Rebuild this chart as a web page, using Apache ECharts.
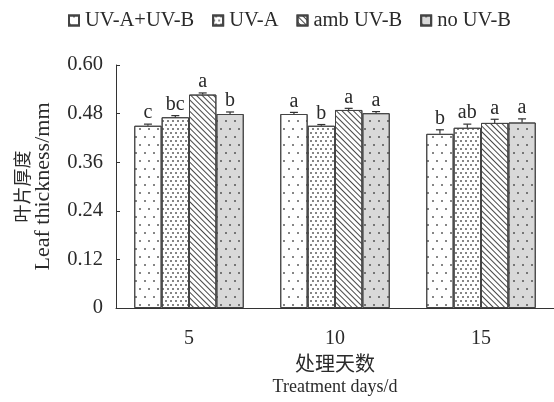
<!DOCTYPE html>
<html>
<head>
<meta charset="utf-8">
<script src="https://cdn.jsdelivr.net/npm/echarts@6/dist/echarts.min.js"></script>
<style>
  html, body { margin: 0; padding: 0; background: #fff; }
  #main { width: 554px; height: 402px; }
</style>
</head>
<body>
<div id="main"></div>
<script>
// 处理天数
var days = ['5', '10', '15'];
var seriesNames = ['UV-A+UV-B', 'UV-A', 'amb UV-B', 'no UV-B'];
// 叶片厚度 mean values (mm)
var uvab = [0.450, 0.479, 0.430];
var uva = [0.471, 0.450, 0.445];
var ambUvb = [0.527, 0.489, 0.457];
var noUvb = [0.479, 0.481, 0.458];
// error bars
var uvabErr = [0.004, 0.004, 0.010];
var uvaErr = [0.004, 0.003, 0.009];
var ambUvbErr = [0.004, 0.004, 0.009];
var noUvbErr = [0.005, 0.004, 0.009];
// significance letters
var uvabSig = ['c', 'a', 'b'];
var uvaSig = ['bc', 'b', 'ab'];
var ambUvbSig = ['a', 'a', 'a'];
var noUvbSig = ['b', 'a', 'a'];
var yTicks = ['0', '0.12', '0.24', '0.36', '0.48', '0.60'];

var values = [uvab, uva, ambUvb, noUvb];
var errs = [uvabErr, uvaErr, ambUvbErr, noUvbErr];
var sigs = [uvabSig, uvaSig, ambUvbSig, noUvbSig];

var serif = '"Liberation Serif", "Times New Roman", serif';
var cjk = '"Noto Sans CJK SC", serif';
var ink = '#2a2a2a';
var gapRatio = 0.25;

// 填充图案
var decals = [
  { symbol: 'circle', symbolSize: 1, color: 'rgba(40,40,40,0.75)',
    dashArrayX: [[1.4, 6.6], [0, 4, 1.4, 2.6]], dashArrayY: [1.4, 5.6] },
  { symbol: 'circle', symbolSize: 1, color: 'rgba(40,40,40,0.75)',
    dashArrayX: [[1.3, 2.7], [0, 2, 1.3, 0.7]], dashArrayY: [1.3, 1.9] },
  { symbol: 'rect', symbolSize: 1, color: 'rgba(40,40,40,0.85)',
    dashArrayX: [1, 0], dashArrayY: [1, 2.6], rotation: Math.PI / 4 },
  { symbol: 'circle', symbolSize: 1, color: 'rgba(40,40,40,0.75)',
    dashArrayX: [[1.4, 6.6], [0, 4, 1.4, 2.6]], dashArrayY: [1.4, 5.6] }
];
var fills = ['#ffffff', '#ffffff', '#ffffff', '#d9d9d9'];

var series = [];
seriesNames.forEach(function (name, si) {
  series.push({
    name: name,
    type: 'bar',
    data: values[si],
    barGap: 0,
    barCategoryGap: (gapRatio * 100) + '%',
    itemStyle: {
      color: fills[si],
      borderColor: '#444',
      borderWidth: 1,
      decal: decals[si]
    },
    emphasis: { disabled: true }
  });
});
seriesNames.forEach(function (name, si) {
  series.push({
    type: 'custom',
    data: values[si].map(function (v, i) { return [i, v, errs[si][i]]; }),
    z: 5,
    silent: true,
    renderItem: function (params, api) {
      var ci = api.value(0);
      var base = api.coord([ci, api.value(1)]);
      var top = api.coord([ci, api.value(1) + api.value(2)]);
      var bw = api.size([1, 0])[0] * (1 - gapRatio) / 4;
      var x = base[0] + (si - 1.5) * bw;
      var st = { stroke: '#333', lineWidth: 1.2 };
      return {
        type: 'group',
        children: [
          { type: 'line', shape: { x1: x, y1: base[1], x2: x, y2: top[1] }, style: st },
          { type: 'line', shape: { x1: x - 4, y1: top[1], x2: x + 4, y2: top[1] }, style: st },
          { type: 'text', style: {
              text: sigs[si][params.dataIndex], x: x, y: top[1] - 1,
              align: 'center', verticalAlign: 'bottom',
              font: '20px ' + serif, fill: ink } }
        ]
      };
    }
  });
});

var chart = echarts.init(document.getElementById('main'));
chart.setOption({
  animation: false,
  backgroundColor: '#fff',
  legend: {
    data: seriesNames,
    icon: 'rect',
    top: 5,
    left: 63,
    itemWidth: 10,
    itemHeight: 10,
    itemGap: 18,
    textStyle: { fontFamily: serif, fontSize: 20.5, color: ink, padding: [0, 0, 0, 1] }
  },
  grid: { left: 116, right: 0, top: 65, bottom: 94 },
  xAxis: {
    type: 'category',
    data: days,
    name: '{cn|处理天数}\n{en|Treatment days/d}',
    nameLocation: 'middle',
    nameGap: 32,
    nameTextStyle: {
      color: ink,
      rich: {
        cn: { fontFamily: cjk, fontSize: 20, lineHeight: 24, color: ink },
        en: { fontFamily: serif, fontSize: 18, lineHeight: 22, color: ink }
      }
    },
    axisLine: { lineStyle: { color: '#333', width: 1 } },
    axisTick: { inside: true, length: 4, lineStyle: { color: '#333' } },
    axisLabel: { color: ink, fontFamily: serif, fontSize: 20, margin: 21 }
  },
  yAxis: {
    type: 'value',
    min: 0,
    max: 0.6,
    interval: 0.12,
    name: '{cn|叶片厚度}\n{en|Leaf thickness/mm}',
    nameLocation: 'middle',
    nameRotate: 90,
    nameGap: 62,
    nameTextStyle: {
      color: ink,
      rich: {
        cn: { fontFamily: cjk, fontSize: 18, lineHeight: 21, color: ink },
        en: { fontFamily: serif, fontSize: 22, lineHeight: 21, color: ink }
      }
    },
    axisLine: { show: true, lineStyle: { color: '#333', width: 1 } },
    axisTick: { show: true, inside: true, length: 4, lineStyle: { color: '#333' } },
    splitLine: { show: false },
    axisLabel: {
      color: ink, fontFamily: serif, fontSize: 20.5, margin: 13,
      formatter: function (v) { return yTicks[Math.round(v / 0.12)]; }
    }
  },
  series: series
});
</script>
</body>
</html>
